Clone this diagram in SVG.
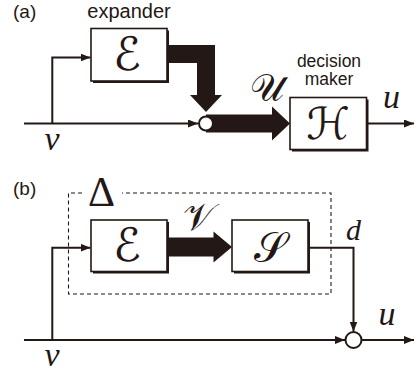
<svg xmlns="http://www.w3.org/2000/svg" width="418" height="376" viewBox="0 0 418 376">
<defs>
<style>
.ln{fill:none;stroke:#231815;stroke-width:2}
.thick{fill:#231815}
.box{fill:#fff;stroke:#231815;stroke-width:1.6}
.shadow{fill:#231815}
.lab{font-family:"Liberation Sans",Arial,sans-serif;fill:#231815}
.cal{font-family:"DejaVu Serif","DejaVu Sans",serif;fill:#231815;text-anchor:middle}
.mi{font-family:"Liberation Serif","Times New Roman",serif;font-style:italic;fill:#231815;text-anchor:middle}
.dash{fill:none;stroke:#231815;stroke-width:1.1;stroke-dasharray:4 3}
.sum{fill:#fff;stroke:#231815;stroke-width:2}
</style>
<marker id="ah" viewBox="0 0 10 8" refX="10" refY="4" markerWidth="10" markerHeight="8" markerUnits="userSpaceOnUse" orient="auto">
<path d="M0,0 L10,4 L0,8 Z" fill="#231815"/>
</marker>
</defs>
<rect width="418" height="376" fill="#fff"/>

<text class="lab" x="13" y="18" font-size="19">(a)</text>
<text class="lab" x="13" y="195" font-size="19">(b)</text>

<g id="connectors">
<path class="ln" d="M24,123.5 H198" marker-end="url(#ah)"/>
<path class="ln" d="M52.3,123.5 V57.5 H90.5" marker-end="url(#ah)"/>
<polygon class="thick" points="169,45 215,45 215,95 222,95 206,112 190,95 197,95 197,63 169,63"/>
<polygon class="thick" points="206,114.5 272,114.5 272,106.5 290,123.5 272,140.5 272,132.5 206,132.5"/>
<path class="ln" d="M368,123.5 H414" marker-end="url(#ah)"/>
<path class="ln" d="M24,340 H345" marker-end="url(#ah)"/>
<path class="ln" d="M52.3,340 V247.7 H90.5" marker-end="url(#ah)"/>
<polygon class="thick" points="169,237.5 213.5,237.5 213.5,231.5 232,247 213.5,262.5 213.5,256.5 169,256.5"/>
<path class="ln" d="M309,247.7 H353.5 V331.5" marker-end="url(#ah)"/>
<path class="ln" d="M361.5,340 H414" marker-end="url(#ah)"/>
</g>

<g id="sum-a"><circle class="sum" cx="206" cy="123.5" r="7"/></g>
<g id="sum-b"><circle class="sum" cx="353.5" cy="340" r="8"/></g>

<g id="expander-a">
<rect class="shadow" x="93" y="30.5" width="76" height="52.5"/>
<rect class="box" x="91" y="28.5" width="76" height="52.5"/>
<text class="cal" x="127" y="70" font-size="46">ℰ</text>
</g>
<text class="lab" x="129" y="17.5" font-size="20" text-anchor="middle">expander</text>

<g id="decision-maker">
<rect class="shadow" x="292" y="99.5" width="76.5" height="52"/>
<rect class="box" x="290" y="97.5" width="76.5" height="52"/>
<text class="cal" x="328" y="139" font-size="44">ℋ</text>
</g>
<text class="lab" x="329" y="66.5" font-size="17.5" text-anchor="middle">decision</text>
<text class="lab" x="329" y="85" font-size="17.5" text-anchor="middle">maker</text>

<text class="cal" x="267" y="101" font-size="38">𝒰</text>
<text class="mi" x="391.5" y="108" font-size="34">u</text>
<text class="mi" x="52" y="150" font-size="34">v</text>

<g id="delta">
<path class="dash" d="M82,193 H68.5 V294 H331 V193 H122"/>
<text x="101.5" y="206" font-family="Liberation Serif,serif" font-size="42" text-anchor="middle" fill="#231815">Δ</text>
</g>

<g id="expander-b">
<rect class="shadow" x="93" y="222" width="76" height="51.5"/>
<rect class="box" x="91" y="220" width="76" height="51.5"/>
<text class="cal" x="127" y="261" font-size="46">ℰ</text>
</g>
<text class="cal" x="199" y="230" font-size="38">𝒱</text>

<g id="S">
<rect class="shadow" x="234" y="222" width="76" height="51.5"/>
<rect class="box" x="232" y="220" width="76" height="51.5"/>
<text class="cal" x="270" y="262" font-size="42">𝒮</text>
</g>

<text class="mi" x="353.5" y="240" font-size="30">d</text>
<text class="mi" x="387" y="325" font-size="34">u</text>
<text class="mi" x="52" y="366" font-size="34">v</text>
</svg>
